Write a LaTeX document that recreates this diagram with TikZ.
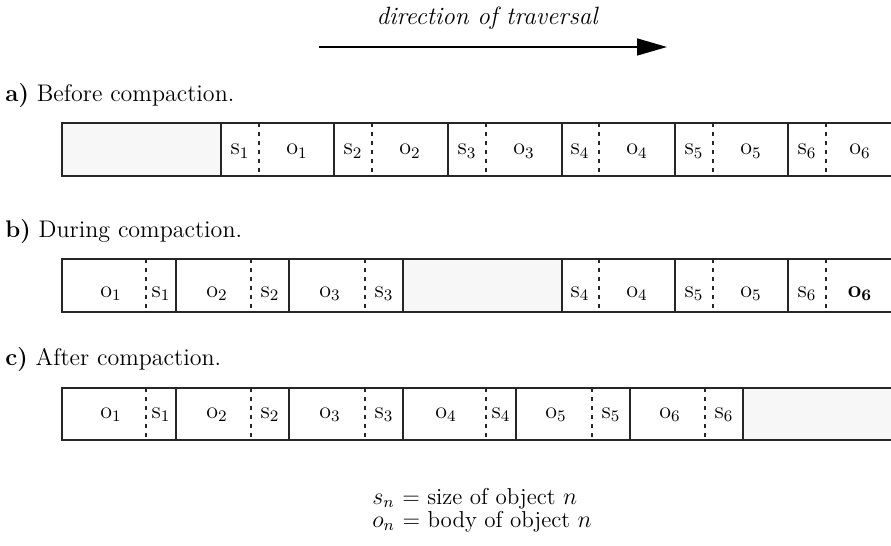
\documentclass[tikz,border=0pt]{standalone}
\usetikzlibrary{arrows.meta}
\begin{document}
\begin{tikzpicture}[x=0.5pt,y=-0.5pt,
  frame/.style={line width=0.9pt, draw=black!85},
  sep/.style={line width=0.8pt, draw=black!85},
  dsep/.style={line width=0.7pt, draw=black!85, dash pattern=on 2pt off 2.5pt},
  free/.style={fill=black!3},
  cell/.style={anchor=base, inner sep=0pt, font=\fontsize{12}{14}\selectfont},
  lbl/.style={anchor=base west, inner sep=0pt, font=\fontsize{12}{14}\selectfont},
  arr/.style={line width=0.75pt, -{Triangle[length=15pt, width=8.5pt]}}]
\useasboundingbox (0,0) rectangle (891,546);
\clip (0,0) rectangle (891,546);

% title and arrow
\node[anchor=base, inner sep=0pt, font=\fontsize{12.5}{14}\selectfont\itshape] (title) at (487,25) {direction of traversal};
\coordinate (arrS) at (319,47);
\coordinate (arrE) at (667,47);
\draw[arr] (arrS) -- (arrE);

% ---------- row a ----------
\node[lbl] (la) at (5,101) {\textbf{a)} Before compaction.};
\fill[free] (62,123) rectangle (221,176);
\foreach \x in {221,334,448,562,675,788} \draw[sep] (\x,123) -- (\x,176);
\foreach \x in {259,372,486,599,713,826} \draw[dsep] (\x,123) -- (\x,176);
\draw[frame] (62,123) rectangle (900,176);
\node[cell] (as1) at (240,155) {s$_1$};
\node[cell] (ao1) at (297,155) {o$_1$};
\node[cell] (as2) at (353,155) {s$_2$};
\node[cell] (ao2) at (410,155) {o$_2$};
\node[cell] (as3) at (467,155) {s$_3$};
\node[cell] (ao3) at (524,155) {o$_3$};
\node[cell] (as4) at (580,155) {s$_4$};
\node[cell] (ao4) at (637,155) {o$_4$};
\node[cell] (as5) at (694,155) {s$_5$};
\node[cell] (ao5) at (751,155) {o$_5$};
\node[cell] (as6) at (807,155) {s$_6$};
\node[cell] (ao6) at (860,155) {o$_6$};

% ---------- row b ----------
\node[lbl] (lb) at (5,237) {\textbf{b)} During compaction.};
\fill[free] (403,259) rectangle (562,312);
\foreach \x in {176,289,403,562,675,788} \draw[sep] (\x,259) -- (\x,312);
\foreach \x in {146,251,365,599,713,826} \draw[dsep] (\x,259) -- (\x,312);
\draw[frame] (62,259) rectangle (900,312);
\node[cell] (bo1) at (111,297) {o$_1$};
\node[cell] (bs1) at (161,297) {s$_1$};
\node[cell] (bo2) at (217,297) {o$_2$};
\node[cell] (bs2) at (270,297) {s$_2$};
\node[cell] (bo3) at (330,297) {o$_3$};
\node[cell] (bs3) at (384,297) {s$_3$};
\node[cell] (bs4) at (580,297) {s$_4$};
\node[cell] (bo4) at (637,297) {o$_4$};
\node[cell] (bs5) at (694,297) {s$_5$};
\node[cell] (bo5) at (751,297) {o$_5$};
\node[cell] (bs6) at (807,297) {s$_6$};
\node[cell] (bo6) at (860,297) {\textbf{o}$_{\mathbf{6}}$};

% ---------- row c ----------
\node[lbl] (lc) at (5,365) {\textbf{c)} After compaction.};
\fill[free] (743,388) rectangle (900,440);
\foreach \x in {176,289,403,516,630,743} \draw[sep] (\x,388) -- (\x,440);
\foreach \x in {146,251,365,486,592,705} \draw[dsep] (\x,388) -- (\x,440);
\draw[frame] (62,388) rectangle (900,440);
\node[cell] (co1) at (111,418) {o$_1$};
\node[cell] (cs1) at (161,418) {s$_1$};
\node[cell] (co2) at (217,418) {o$_2$};
\node[cell] (cs2) at (270,418) {s$_2$};
\node[cell] (co3) at (330,418) {o$_3$};
\node[cell] (cs3) at (384,418) {s$_3$};
\node[cell] (co4) at (446,418) {o$_4$};
\node[cell] (cs4) at (501,418) {s$_4$};
\node[cell] (co5) at (556,418) {o$_5$};
\node[cell] (cs5) at (611,418) {s$_5$};
\node[cell] (co6) at (670,418) {o$_6$};
\node[cell] (cs6) at (724,418) {s$_6$};

% legend
\node[lbl, font=\fontsize{11.5}{14}\selectfont] (leg1) at (372,504) {$s_n$ = size of object $n$};
\node[lbl, font=\fontsize{11.5}{14}\selectfont] (leg2) at (372,527) {$o_n$ = body of object $n$};
\end{tikzpicture}
\end{document}
